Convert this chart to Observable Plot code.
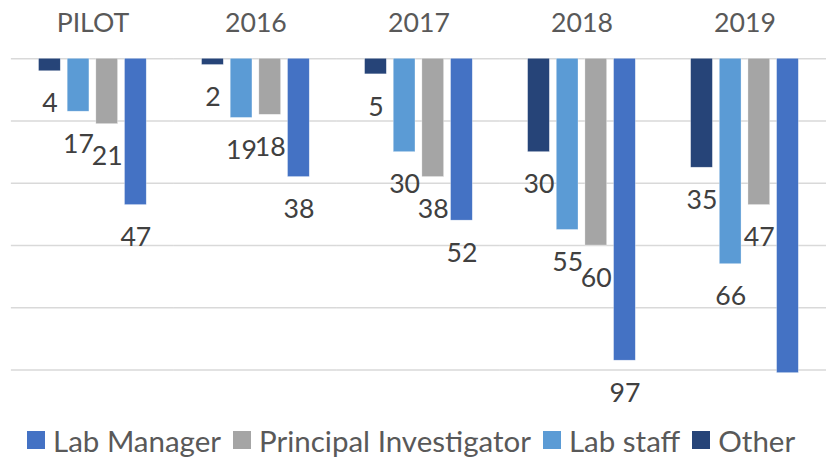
<!DOCTYPE html>
<html>
<head>
<meta charset="utf-8">
<script src="https://cdn.jsdelivr.net/npm/d3@7"></script>
<script src="https://cdn.jsdelivr.net/npm/@observablehq/plot@0.6"></script>
<style>
  html, body { margin: 0; padding: 0; background: #fff; }
  #wrap { width: 826px; height: 458px; overflow: hidden; position: relative; font-family: Lato, sans-serif; }
  #chart svg { display: block; }
  #legend { display: flex; align-items: center; justify-content: flex-start; padding-left: 27px; padding-top: 4px; height: 62px; font-size: 29.5px; color: #595959; white-space: nowrap; }
  #legend .item { display: flex; align-items: center; margin-right: 12px; }
  #legend .sw { width: 18px; height: 18px; margin-right: 8px; display: inline-block; }
</style>
</head>
<body>
<div id="wrap">
  <div id="chart"></div>
  <div id="legend"></div>
</div>
<script>
const categories = ["PILOT", "2016", "2017", "2018", "2019"];
const series = ["Other", "Lab staff", "Principal Investigator", "Lab Manager"];
const legendOrder = ["Lab Manager", "Principal Investigator", "Lab staff", "Other"];
const colors = ["#264478", "#5B9BD5", "#A5A5A5", "#4472C4"];
const otherValues = [4, 2, 5, 30, 35];
const labStaffValues = [17, 19, 30, 55, 66];
const piValues = [21, 18, 38, 60, 47];
const labManagerValues = [47, 38, 52, 97, 101];
const yTicks = [0, 20, 40, 60, 80, 100];
const axisMax = 100;

const valuesBySeries = {
  "Other": otherValues,
  "Lab staff": labStaffValues,
  "Principal Investigator": piValues,
  "Lab Manager": labManagerValues
};
const data = [];
categories.forEach((c, i) => {
  series.forEach(s => data.push({cat: c, series: s, value: valuesBySeries[s][i]}));
});

const chart = Plot.plot({
  width: 836,
  height: 410,
  marginLeft: 11,
  marginRight: 0,
  marginTop: 59,
  marginBottom: 36,
  style: {fontFamily: "Lato, sans-serif", fontSize: "27px", color: "#595959", background: "white", overflow: "visible"},
  fx: {domain: categories, paddingInner: 0, paddingOuter: 0, label: null},
  x: {domain: series, paddingInner: 0.2333, paddingOuter: 0.867, axis: null},
  y: {domain: [0, axisMax], reverse: true, axis: null},
  color: {domain: series, range: colors},
  marks: [
    Plot.gridY(yTicks, {stroke: "#d9d9d9", strokeOpacity: 1, strokeWidth: 1.6}),
    Plot.axisFx({anchor: "top", tickSize: 0, tickPadding: 27, fontSize: 27, fill: "#595959", label: null}),
    Plot.barY(data, {fx: "cat", x: "series", y: "value", fill: "series", stroke: "white", strokeWidth: 0.6, strokeOpacity: 0.5}),
    Plot.text(data.filter(d => d.value <= axisMax), {fx: "cat", x: "series", y: "value", text: d => String(d.value), dy: 33, fontSize: 27, fill: "#404040"})
  ]
});
document.getElementById("chart").appendChild(chart);

const legend = document.getElementById("legend");
legendOrder.forEach(s => {
  const item = document.createElement("span");
  item.className = "item";
  const sw = document.createElement("span");
  sw.className = "sw";
  sw.style.background = colors[series.indexOf(s)];
  const t = document.createElement("span");
  t.textContent = s;
  item.appendChild(sw);
  item.appendChild(t);
  legend.appendChild(item);
});
</script>
</body>
</html>
